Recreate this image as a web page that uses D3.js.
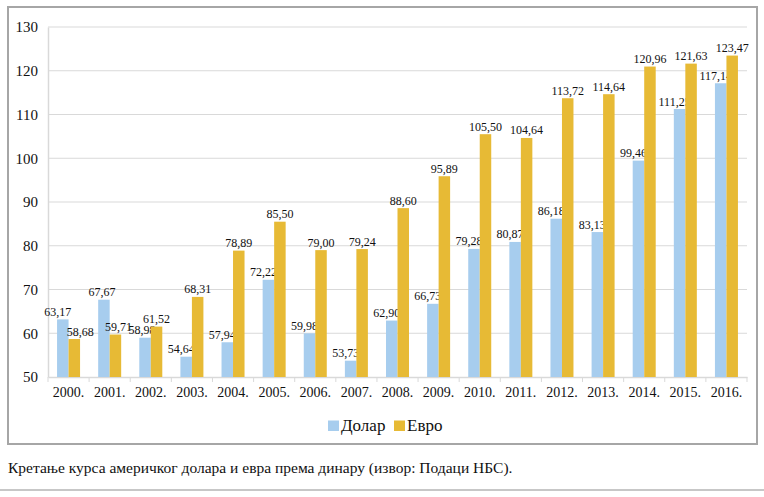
<!DOCTYPE html>
<html><head><meta charset="utf-8">
<script src="https://cdn.jsdelivr.net/npm/d3@7"></script>
<style>
html,body{margin:0;padding:0;background:#fff;}
svg{display:block;}
</style></head>
<body>
<svg id="chart" width="764" height="497"></svg>
<script>
const years = ["2000.","2001.","2002.","2003.","2004.","2005.","2006.","2007.","2008.","2009.","2010.","2011.","2012.","2013.","2014.","2015.","2016."];
const dollar = [63.17,67.67,58.98,54.64,57.94,72.22,59.98,53.73,62.90,66.73,79.28,80.87,86.18,83.13,99.46,111.25,117.14];
const euro = [58.68,59.71,61.52,68.31,78.89,85.50,79.00,79.24,88.60,95.89,105.50,104.64,113.72,114.64,120.96,121.63,123.47];
const seriesNames = ["Долар","Евро"];
const yTicks = [50,60,70,80,90,100,110,120,130];
const caption = "Кретање курса америчког долара и евра према динару (извор: Подаци НБС).";

const colors = ["#A7CDEE","#E7BA35"];
const FONT = '"Liberation Serif"';
const svg = d3.select("#chart");
const x0 = 48, x1 = 747, yTop = 27, yBot = 377;

// frame
svg.append("rect").attr("x",8).attr("y",7).attr("width",749).attr("height",437)
  .attr("fill","#fff").attr("stroke","#a6a6a6").attr("stroke-width",2);

const x = d3.scaleBand().domain(years).range([x0,x1]).paddingInner(0).paddingOuter(0);
const y = d3.scaleLinear().domain([50,130]).range([yBot,yTop]);
const barW = 11.5;

// gridlines
svg.append("g").selectAll("line").data(yTicks.slice(1)).join("line")
  .attr("x1",x0).attr("x2",x1).attr("y1",d=>y(d)).attr("y2",d=>y(d))
  .attr("stroke","#d9d9d9").attr("stroke-width",1);

// y axis
const yAxis = svg.append("g").attr("transform",`translate(${x0},0)`)
  .call(d3.axisLeft(y).tickValues(yTicks).tickSize(0).tickPadding(10).tickFormat(d3.format("d")));
yAxis.select(".domain").attr("stroke","#d9d9d9").attr("stroke-width",1.5);
yAxis.selectAll("text").style("font-family",FONT).style("font-size","15px").attr("fill","#111");

// x axis
const xAxis = svg.append("g").attr("transform",`translate(0,${yBot})`)
  .call(d3.axisBottom(x).tickSize(0).tickPadding(10));
xAxis.select(".domain").attr("stroke","#d9d9d9").attr("stroke-width",1.5);
xAxis.selectAll("text").style("font-family",FONT).style("font-size","14px").attr("fill","#111");
// boundary ticks
svg.append("g").selectAll("line").data(d3.range(years.length+1)).join("line")
  .attr("x1",i=>x0+i*x.bandwidth()).attr("x2",i=>x0+i*x.bandwidth())
  .attr("y1",yBot).attr("y2",yBot+5).attr("stroke","#d9d9d9").attr("stroke-width",1);

const groups = [dollar, euro];
const fmt = v => d3.format(".2f")(v).replace(".",",");
const labelNudge = [[-5,6],[-2,3],[-3,0]]; // per-year overrides for crowded first groups
groups.forEach((vals,si)=>{
  const cx = d => x(years[d.i]) + x.bandwidth()/2 + (si===0 ? -barW : 0);
  const data = vals.map((v,i)=>({v,i}));
  svg.append("g").selectAll("rect").data(data).join("rect")
    .attr("x",cx).attr("y",d=>y(d.v)).attr("width",barW).attr("height",d=>yBot-y(d.v))
    .attr("fill",colors[si]);
  svg.append("g").selectAll("text").data(data).join("text")
    .attr("x",d=>{
      let dx = si===0 ? -5 : 0;
      if (d.i < labelNudge.length) dx = labelNudge[d.i][si];
      return cx(d)+barW/2+dx;
    })
    .attr("y",d=>y(d.v)-3.5)
    .attr("text-anchor","middle")
    .style("font-family",FONT).style("font-size","12px").attr("fill","#111")
    .text(d=>fmt(d.v));
});

// legend
const leg = svg.append("g");
const legX = [328, 394];
seriesNames.forEach((n,i)=>{
  leg.append("rect").attr("x",legX[i]).attr("y",420.5).attr("width",11).attr("height",10.5).attr("fill",colors[i]);
  leg.append("text").attr("x",legX[i]+13).attr("y",430.5)
    .style("font-family",FONT).style("font-size","17px").attr("fill","#111").text(n);
});

// caption
svg.append("text").attr("x",8).attr("y",473)
  .style("font-family",FONT).style("font-size","15.5px").attr("fill","#111").text(caption);
svg.append("line").attr("x1",0).attr("x2",764).attr("y1",490).attr("y2",490)
  .attr("stroke","#b5b5b5").attr("stroke-width",1.5);
</script>
</body></html>
